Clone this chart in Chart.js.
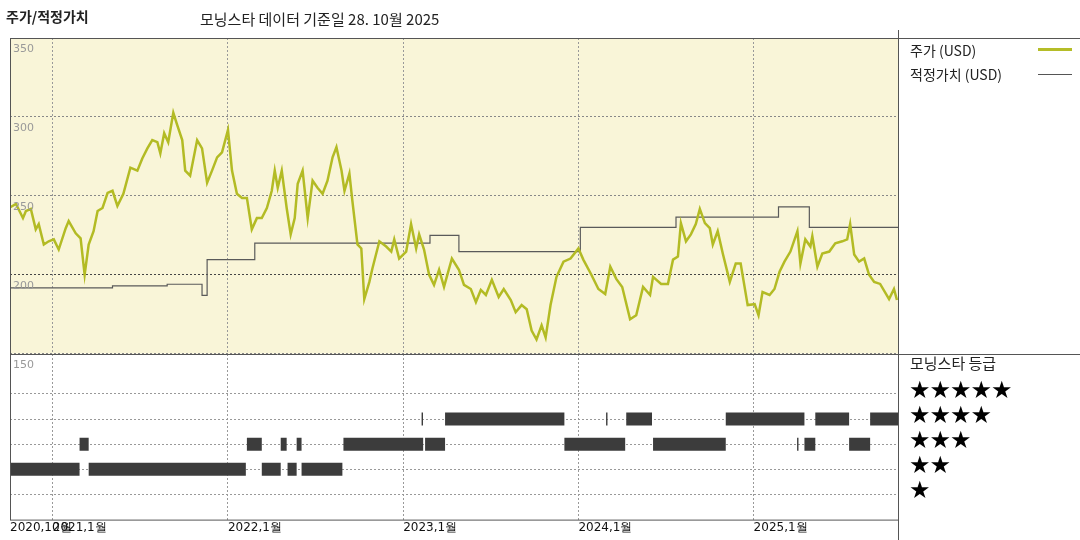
<!DOCTYPE html>
<html>
<head>
<meta charset="utf-8">
<script src="https://cdn.jsdelivr.net/npm/chart.js@4"></script>
<style>
  body { margin:0; width:1080px; height:540px; background:#fff; font-family:"Noto Sans CJK KR", "DejaVu Sans", sans-serif; overflow:hidden; }
  #wrap { position:absolute; left:0; top:0; width:1080px; height:540px; }
  .t { position:absolute; color:#222; white-space:nowrap; }
  .stars { position:absolute; left:909px; font-size:24px; line-height:24px; color:#000; font-family:"DejaVu Sans", sans-serif; letter-spacing:-1px; }
</style>
</head>
<body>
<div id="wrap"><canvas id="graf" width="1080" height="540"></canvas></div>
<div class="t" style="left:6px;top:6px;font-size:14px;font-weight:bold;">주가/적정가치</div>
<div class="t" style="left:200px;top:8px;font-size:15px;">모닝스타 데이터 기준일 28. 10월 2025</div>
<div class="t" style="left:910px;top:40px;font-size:14px;">주가 (USD)</div>
<div style="position:absolute;left:1038px;top:48px;width:34px;height:3px;background:#b5bd28"></div>
<div class="t" style="left:910px;top:64px;font-size:14px;">적정가치 (USD)</div>
<div style="position:absolute;left:1038px;top:74px;width:34px;height:1px;background:#555"></div>
<div class="t" style="left:910px;top:352px;font-size:15px;">모닝스타 등급</div>
<div class="stars" style="top:378px">★★★★★</div>
<div class="stars" style="top:403px">★★★★</div>
<div class="stars" style="top:428px">★★★</div>
<div class="stars" style="top:453px">★★</div>
<div class="stars" style="top:478px">★</div>
<script>
// dates as fractional years
const priceDates = [2020.750,2020.790,2020.830,2020.847,2020.875,2020.903,2020.920,2020.949,2020.977,2021.006,2021.034,2021.074,2021.091,2021.131,2021.159,2021.182,2021.205,2021.233,2021.256,2021.284,2021.313,2021.341,2021.369,2021.403,2021.443,2021.483,2021.511,2021.540,2021.568,2021.597,2021.614,2021.636,2021.659,2021.688,2021.710,2021.739,2021.756,2021.784,2021.824,2021.852,2021.881,2021.909,2021.938,2021.966,2022.000,2022.023,2022.051,2022.080,2022.108,2022.136,2022.165,2022.193,2022.222,2022.250,2022.267,2022.284,2022.307,2022.335,2022.358,2022.381,2022.398,2022.426,2022.455,2022.483,2022.511,2022.540,2022.568,2022.597,2022.619,2022.648,2022.665,2022.693,2022.710,2022.739,2022.761,2022.778,2022.807,2022.824,2022.864,2022.903,2022.932,2022.949,2022.977,2023.017,2023.045,2023.074,2023.091,2023.119,2023.148,2023.176,2023.205,2023.233,2023.278,2023.318,2023.347,2023.386,2023.415,2023.443,2023.472,2023.506,2023.545,2023.574,2023.614,2023.642,2023.676,2023.705,2023.733,2023.761,2023.790,2023.813,2023.841,2023.875,2023.915,2023.955,2024.000,2024.028,2024.074,2024.114,2024.153,2024.182,2024.216,2024.250,2024.295,2024.330,2024.369,2024.409,2024.426,2024.472,2024.511,2024.540,2024.568,2024.585,2024.614,2024.642,2024.670,2024.693,2024.722,2024.750,2024.767,2024.795,2024.824,2024.864,2024.898,2024.926,2024.966,2025.006,2025.028,2025.051,2025.091,2025.119,2025.148,2025.176,2025.210,2025.250,2025.267,2025.295,2025.324,2025.335,2025.364,2025.392,2025.432,2025.466,2025.506,2025.534,2025.551,2025.574,2025.602,2025.631,2025.659,2025.688,2025.722,2025.773,2025.801,2025.818];
const priceValues = [242.3,244.9,235.9,240.4,241.7,228.8,232.1,219.2,221.2,222.4,216.0,229.5,234.0,226.3,223.1,200.0,219.2,227.6,240.4,242.3,251.9,253.2,243.6,251.3,267.9,266.0,273.7,280.1,285.3,284.0,276.9,289.7,284.0,302.6,294.9,285.3,266.0,262.8,285.3,280.1,258.3,266.0,274.4,277.6,291.7,266.0,251.3,248.7,248.7,228.8,235.9,235.9,242.3,253.2,266.0,255.1,266.0,242.3,225.6,235.9,257.7,266.0,235.9,259.6,255.1,251.3,259.6,274.4,280.8,266.0,253.2,264.1,246.8,219.2,216.7,184.6,195.5,203.8,221.2,217.9,214.7,222.4,210.3,214.7,232.1,216.7,225.6,216.0,200.0,193.6,203.2,192.3,210.3,203.2,193.6,191.0,182.7,190.4,187.2,196.8,185.9,191.0,184.0,176.3,180.8,178.2,164.7,159.0,168.0,160.3,180.8,198.7,208.3,210.3,216.7,209.6,200.0,191.0,187.8,205.1,197.4,192.3,171.8,174.4,192.3,187.2,198.7,194.2,194.2,209.6,211.5,232.7,221.2,225.6,232.1,241.7,232.7,229.5,219.2,227.6,213.5,195.5,207.1,207.1,180.8,181.4,174.4,189.1,187.2,191.0,201.9,208.3,214.7,227.6,207.1,222.4,217.9,224.4,205.1,213.5,214.7,219.9,221.2,222.4,232.1,212.8,208.3,210.3,200.0,195.5,194.2,184.6,191.0,184.0];

const fairDates = [2020.756,2021.341,2021.653,2021.852,2021.881,2022.153,2023.153,2023.318,2024.011,2024.557,2025.142,2025.318,2025.568,2025.824];
const fairValues = [190.4,191.7,193.0,194.0,187.0,209.6,220.0,225.0,214.7,230.0,236.5,243.0,230.0,230.0];

// star rating periods [start, end]
const rating2 = [[2020.756,2021.153],[2021.205,2022.102],[2022.193,2022.301],[2022.340,2022.392],[2022.420,2022.653]];
const rating3 = [[2021.153,2021.205],[2022.108,2022.193],[2022.301,2022.335],[2022.392,2022.420],[2022.659,2023.114],[2023.125,2023.239],[2023.920,2024.267],[2024.426,2024.841],[2025.248,2025.256],[2025.290,2025.352],[2025.545,2025.665]];
const rating4 = [[2023.105,2023.113],[2023.239,2023.920],[2024.158,2024.166],[2024.273,2024.420],[2024.841,2025.290],[2025.352,2025.545],[2025.665,2025.824]];

const xTicks = [2020.756, 2021, 2022, 2023, 2024, 2025];
const xTickLabels = ['2020,10월', '2021,1월', '2022,1월', '2023,1월', '2024,1월', '2025,1월'];

function segs(list, level) {
  const out = [];
  list.forEach(([s, e]) => {
    out.push({x: s, y: level}, {x: e, y: level}, {x: e, y: null});
  });
  return out;
}

const price = priceDates.map((d, i) => ({x: d, y: priceValues[i]}));
const fair = fairDates.map((d, i) => ({x: d, y: fairValues[i]}));

const ratingStyle = {borderColor: '#3c3c3c', borderWidth: 13, borderCapStyle: 'butt', pointRadius: 0, spanGaps: false, yAxisID: 'yr'};

const panels = {
  id: 'panels',
  beforeDraw(chart) {
    const {ctx, chartArea: a, scales} = chart;
    const top = scales.y.top, bot = scales.y.bottom;
    ctx.save();
    ctx.fillStyle = '#f9f5d8';
    ctx.fillRect(a.left, top, a.right - a.left, bot - top);
    ctx.restore();
  },
  afterDraw(chart) {
    const {ctx, chartArea: a, scales} = chart;
    ctx.save();
    ctx.strokeStyle = '#555';
    ctx.lineWidth = 1;
    ctx.strokeRect(a.left + 0.5, a.top + 0.5, a.right - a.left, a.bottom - a.top);
    ctx.beginPath();
    ctx.moveTo(a.left, Math.round(scales.y.bottom) + 0.5);
    ctx.lineTo(1080, Math.round(scales.y.bottom) + 0.5);
    ctx.moveTo(a.right + 0.5, a.top - 8);
    ctx.lineTo(a.right + 0.5, 540);
    ctx.moveTo(a.left, a.top + 0.5);
    ctx.lineTo(1080, a.top + 0.5);
    ctx.stroke();
    ctx.restore();
  }
};

new Chart(document.getElementById('graf').getContext('2d'), {
  type: 'line',
  data: {
    datasets: [
      {label: '주가 (USD)', data: price, borderColor: '#b3bb24', borderWidth: 2.5, pointRadius: 0, tension: 0, yAxisID: 'y', order: 1},
      {label: '적정가치 (USD)', data: fair, borderColor: '#5a5a5a', borderWidth: 1.2, pointRadius: 0, stepped: 'after', yAxisID: 'y', order: 2},
      Object.assign({label: 'r4', data: segs(rating4, 4)}, ratingStyle),
      Object.assign({label: 'r3', data: segs(rating3, 3)}, ratingStyle),
      Object.assign({label: 'r2', data: segs(rating2, 2)}, ratingStyle)
    ]
  },
  options: {
    responsive: false,
    animation: false,
    layout: {padding: {left: 4, top: 38, right: 182, bottom: 4}},
    plugins: {legend: {display: false}, tooltip: {enabled: false}},
    scales: {
      x: {
        type: 'linear', min: 2020.756, max: 2025.824,
        afterBuildTicks: (s) => { s.ticks = xTicks.map(v => ({value: v})); },
        ticks: {
          autoSkip: false, maxRotation: 0, align: 'start', padding: 1,
          color: '#111', font: {family: 'DejaVu Sans', size: 12},
          callback: (v, i) => xTickLabels[i]
        },
        grid: {color: (c) => c.index === 0 ? 'rgba(0,0,0,0)' : '#999', tickLength: 0},
        border: {display: false, dash: [2, 2]}
      },
      yr: {
        type: 'linear', position: 'left', stack: 'main', stackWeight: 165,
        min: 0, max: 6.6,
        afterBuildTicks: (s) => { s.ticks = [1, 2, 3, 4, 5].map(v => ({value: v})); },
        ticks: {display: false},
        grid: {color: '#999', tickLength: 0},
        border: {display: false, dash: [2, 2]}
      },
      y: {
        type: 'linear', position: 'left', stack: 'main', stackWeight: 314,
        min: 150, max: 350,
        afterBuildTicks: (s) => { s.ticks = [150, 200, 250, 300, 350].map(v => ({value: v})); },
        ticks: {mirror: true, labelOffset: 11, padding: 3, color: '#999', font: {family: 'DejaVu Sans', size: 11}, z: 1},
        grid: {color: (c) => c.tick.value === 200 ? '#444' : '#888', tickLength: 0},
        border: {display: false, dash: [2, 2]}
      }
    }
  },
  plugins: [panels]
});
</script>
</body>
</html>
